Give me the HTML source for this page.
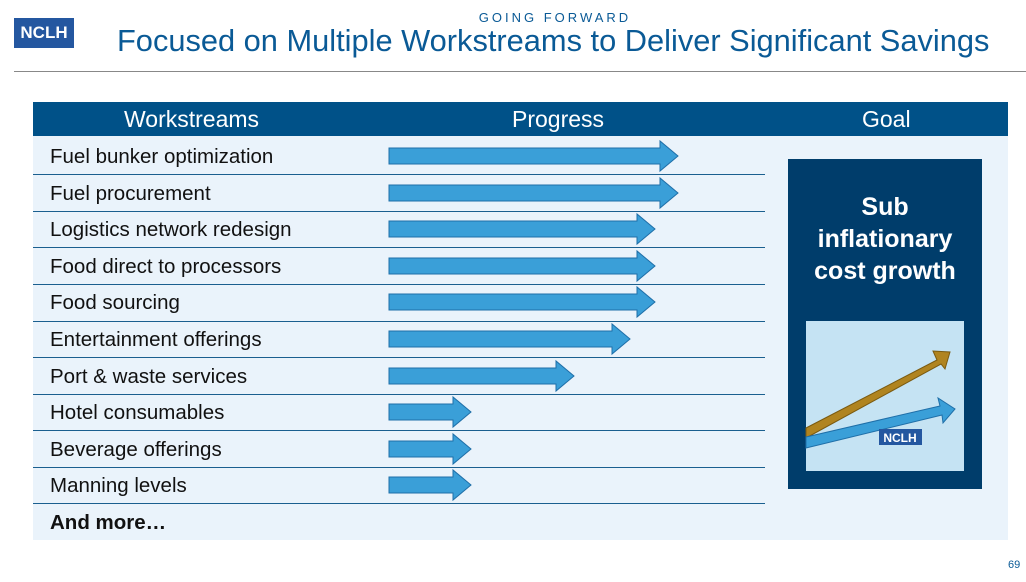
<!DOCTYPE html>
<html><head><meta charset="utf-8"><style>
body{margin:0;width:1026px;height:582px;background:#fff;position:relative;font-family:"Liberation Sans",sans-serif;overflow:hidden}
.a{position:absolute}
.row{position:absolute;left:50px;font-size:20.5px;color:#111}
.ln{position:absolute;left:33px;width:732px;height:1px;background:#1a5f8f}
</style></head><body>
<div class="a" style="left:14px;top:18px;width:60px;height:30px;background:#2457a0;color:#fff;font-weight:bold;font-size:17px;text-align:center;line-height:30px">NCLH</div>
<div class="a" style="left:0;width:1110px;top:10px;text-align:center;font-size:13px;letter-spacing:3px;color:#0a5a96">GOING FORWARD</div>
<div class="a" style="left:117px;top:23px;font-size:30.8px;color:#0a5a96;white-space:nowrap">Focused on Multiple Workstreams to Deliver Significant Savings</div>
<div class="a" style="left:14px;top:71px;width:1012px;height:1px;background:#888"></div>
<div class="a" style="left:33px;top:102px;width:975px;height:34px;background:#005188"></div>
<div class="a" style="left:33px;top:136px;width:975px;height:404px;background:#eaf3fb"></div>
<div class="a" style="left:124px;top:106px;font-size:23px;color:#fff">Workstreams</div>
<div class="a" style="left:512px;top:106px;font-size:23px;color:#fff">Progress</div>
<div class="a" style="left:862px;top:106px;font-size:23px;color:#fff">Goal</div>
<div class="row" style="top:145px">Fuel bunker optimization</div>
<div class="row" style="top:182px">Fuel procurement</div>
<div class="row" style="top:218px">Logistics network redesign</div>
<div class="row" style="top:255px">Food direct to processors</div>
<div class="row" style="top:291px">Food sourcing</div>
<div class="row" style="top:328px">Entertainment offerings</div>
<div class="row" style="top:365px">Port &amp; waste services</div>
<div class="row" style="top:401px">Hotel consumables</div>
<div class="row" style="top:438px">Beverage offerings</div>
<div class="row" style="top:474px">Manning levels</div>
<div class="row" style="top:511px;font-weight:bold">And more…</div>
<div class="ln" style="top:174px"></div><div class="ln" style="top:211px"></div><div class="ln" style="top:247px"></div><div class="ln" style="top:284px"></div><div class="ln" style="top:321px"></div><div class="ln" style="top:357px"></div><div class="ln" style="top:394px"></div><div class="ln" style="top:430px"></div><div class="ln" style="top:467px"></div><div class="ln" style="top:503px"></div>
<svg class="a" style="left:0;top:0" width="1026" height="582">
<g fill="#3a9fd8" stroke="#1f6fa8" stroke-width="1">
<polygon points="389,148 660,148 660,141 678,156 660,171 660,164 389,164"/>
<polygon points="389,185 660,185 660,178 678,193 660,208 660,201 389,201"/>
<polygon points="389,221 637,221 637,214 655,229 637,244 637,237 389,237"/>
<polygon points="389,258 637,258 637,251 655,266 637,281 637,274 389,274"/>
<polygon points="389,294 637,294 637,287 655,302 637,317 637,310 389,310"/>
<polygon points="389,331 612,331 612,324 630,339 612,354 612,347 389,347"/>
<polygon points="389,368 556,368 556,361 574,376 556,391 556,384 389,384"/>
<polygon points="389,404 453,404 453,397 471,412 453,427 453,420 389,420"/>
<polygon points="389,441 453,441 453,434 471,449 453,464 453,457 389,457"/>
<polygon points="389,477 453,477 453,470 471,485 453,500 453,493 389,493"/>
</g>
<rect x="788" y="159" width="194" height="330" fill="#003d6b"/>
<rect x="806" y="321" width="158" height="150" fill="#c5e3f3"/>
<polygon points="806,428 937,360 933,351 950,352 945,369 941,364 806,438" fill="#b08420" stroke="#7a5a10"/>
<polygon points="806,437 940,406 938,398 955,409 943,423 942,415 806,448" fill="#3a9fd8" stroke="#1f6fa8"/>
<rect x="879" y="429" width="43" height="16" fill="#2457a0"/>
<text x="900" y="442" fill="#fff" font-size="12" font-weight="bold" text-anchor="middle" font-family="Liberation Sans">NCLH</text>
<g fill="#fff" font-size="25" font-weight="bold" text-anchor="middle" font-family="Liberation Sans, sans-serif">
<text x="885" y="215">Sub</text><text x="885" y="247">inflationary</text><text x="885" y="279">cost growth</text></g>
</svg>
<div class="a" style="left:1008px;top:559px;font-size:11px;color:#0a5a96">69</div>
</body></html>
